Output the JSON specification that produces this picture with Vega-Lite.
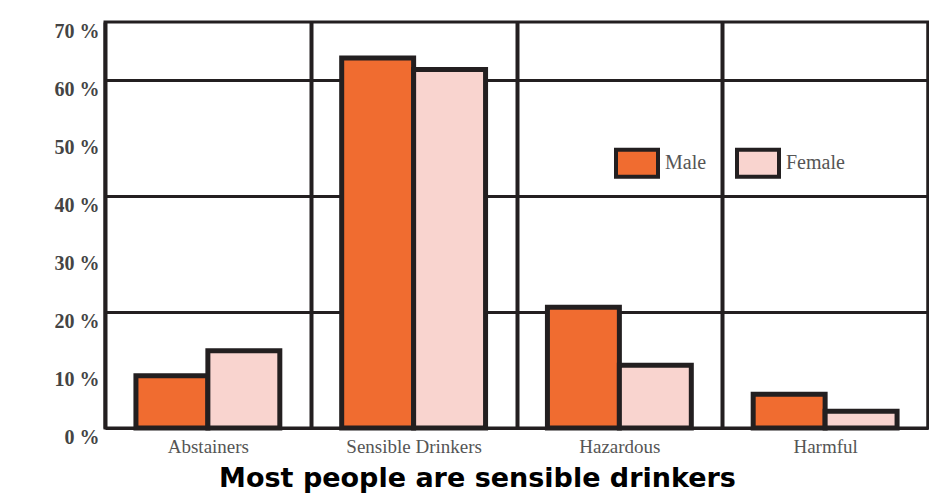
{
  "$schema": "https://vega.github.io/schema/vega-lite/v6.json",
  "autosize": {"type": "none"},
  "padding": {"left": 105, "top": 22, "right": 1, "bottom": 66},
  "width": 823,
  "height": 406,
  "background": "white",
  "config": {"view": {"stroke": "#231F20", "strokeWidth": 3}},
  "data": {"values": [
    {"category": "Abstainers", "sex": "Male", "pct": 9},
    {"category": "Abstainers", "sex": "Female", "pct": 13.3},
    {"category": "Sensible Drinkers", "sex": "Male", "pct": 63.8},
    {"category": "Sensible Drinkers", "sex": "Female", "pct": 61.8},
    {"category": "Hazardous", "sex": "Male", "pct": 20.8},
    {"category": "Hazardous", "sex": "Female", "pct": 10.8},
    {"category": "Harmful", "sex": "Male", "pct": 5.8},
    {"category": "Harmful", "sex": "Female", "pct": 2.9}
  ]},
  "mark": {"type": "bar", "stroke": "#231F20", "strokeWidth": 5},
  "encoding": {
    "x": {
      "field": "category", "type": "nominal",
      "sort": ["Abstainers", "Sensible Drinkers", "Hazardous", "Harmful"],
      "scale": {"paddingInner": 0, "paddingOuter": 0},
      "axis": {
        "title": "Most people are sensible drinkers",
        "titleFont": "DejaVu Sans", "titleFontSize": 27, "titleFontWeight": "bold", "titleColor": "#000000",
        "titleAnchor": "middle", "titleX": 372, "titleY": 58, "titleBaseline": "alphabetic",
        "labelAngle": 0, "labelFont": "Liberation Serif", "labelFontSize": 19, "labelColor": "#555555",
        "labelPadding": 9, "labelBaseline": "top",
        "ticks": false, "domain": false,
        "grid": true, "tickBand": "extent", "gridColor": "#231F20", "gridWidth": 4
      }
    },
    "xOffset": {
      "field": "sex", "type": "nominal", "sort": ["Male", "Female"],
      "scale": {"paddingInner": 0, "paddingOuter": 0.43}
    },
    "y": {
      "field": "pct", "type": "quantitative",
      "scale": {"domain": [0, 70], "nice": false},
      "axis": {
        "title": null,
        "values": [0, 10, 20, 30, 40, 50, 60, 70],
        "labelExpr": "datum.value + ' %'",
        "labelFont": "Liberation Serif", "labelFontSize": 20, "labelFontWeight": "bold", "labelColor": "#444444",
        "labelPadding": 6, "labelOffset": 9, "labelFlush": false,
        "ticks": false, "domain": false,
        "grid": true, "gridColor": "#231F20", "gridWidth": 3,
        "gridOpacity": {"condition": {"test": "datum.value % 20 === 0", "value": 1}, "value": 0}
      }
    },
    "fill": {
      "field": "sex", "type": "nominal", "sort": ["Male", "Female"],
      "scale": {"domain": ["Male", "Female"], "range": ["#F06C30", "#F9D4CF"]},
      "legend": {
        "title": null, "orient": "none", "legendX": 509, "legendY": 118,
        "direction": "horizontal", "padding": 0,
        "symbolType": "M-1,-0.64H1V0.64H-1Z", "symbolSize": 1764,
        "symbolStrokeColor": "#231F20", "symbolStrokeWidth": 4, "symbolOpacity": 1,
        "labelFont": "Liberation Serif", "labelFontSize": 20, "labelColor": "#555555",
        "labelOffset": 5, "columnPadding": 22
      }
    }
  }
}
